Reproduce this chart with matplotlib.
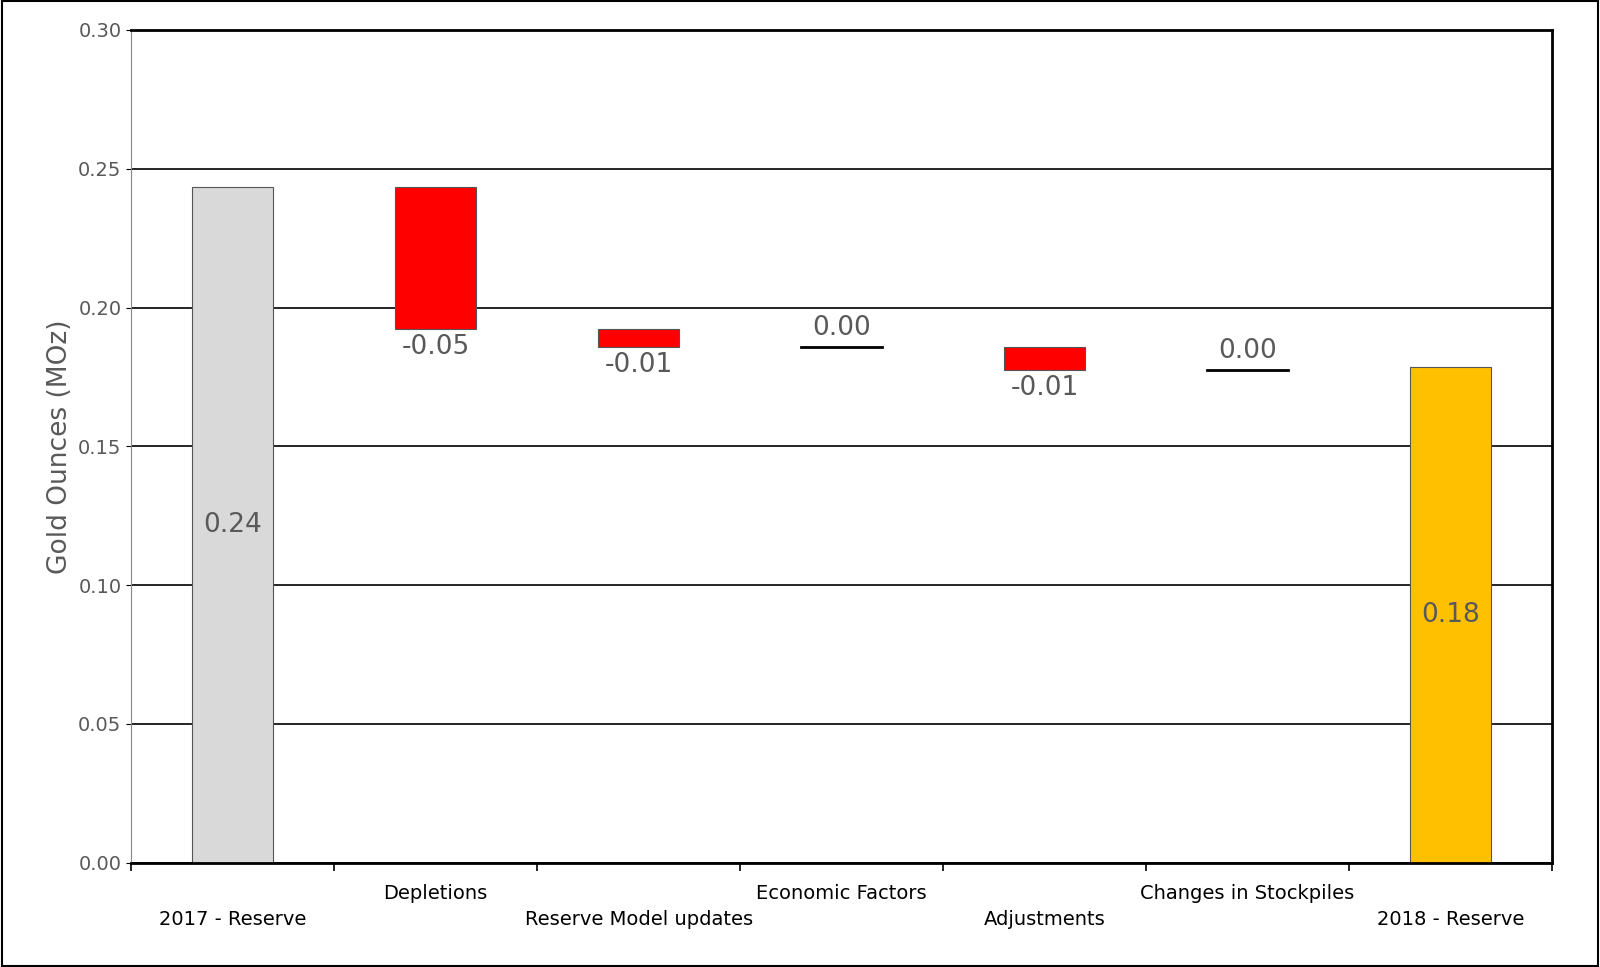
import matplotlib.pyplot as plt
import numpy as np

categories = ["2017 - Reserve", "Depletions", "Reserve Model updates", "Economic Factors",
              "Adjustments", "Changes in Stockpiles", "2018 - Reserve"]
start_value = 0.2434
changes = [-0.051, -0.0065, 0.0, -0.0083, 0.0]
end_value = 0.1786
labels = ["0.24", "-0.05", "-0.01", "0.00", "-0.01", "0.00", "0.18"]

fig = plt.figure(figsize=(16, 9.67), dpi=100)
ax = fig.add_axes([0.082, 0.108, 0.888, 0.861])
fig.patches.append(plt.Rectangle((0.001, 0.001), 0.998, 0.998, transform=fig.transFigure,
                                 fill=False, edgecolor="black", linewidth=1.5))

x = np.arange(len(categories))
w = 0.4
ax.set_axisbelow(True)
ax.yaxis.grid(True, color="black", linewidth=1.2)

ax.bar(x[0], start_value, w, color="#d9d9d9", edgecolor="#555555", linewidth=0.8)
ax.text(x[0], start_value / 2, labels[0], ha="center", va="center", fontsize=19, color="#595959")

level = start_value
for i, d in enumerate(changes, start=1):
    new = level + d
    if d == 0:
        ax.plot([x[i] - w / 2, x[i] + w / 2], [level, level], color="black", linewidth=2)
        ax.text(x[i], level + 0.002, labels[i], ha="center", va="bottom", fontsize=19, color="#595959")
    else:
        ax.bar(x[i], d, w, bottom=level, color="#ff0000", edgecolor="#555555", linewidth=0.8)
        ax.text(x[i], new - 0.002, labels[i], ha="center", va="top", fontsize=19, color="#595959")
    level = new

ax.bar(x[-1], end_value, w, color="#ffc000", edgecolor="#555555", linewidth=0.8)
ax.text(x[-1], end_value / 2, labels[-1], ha="center", va="center", fontsize=19, color="#595959")

ax.set_xlim(-0.5, len(categories) - 0.5)
ax.set_ylim(0, 0.30)
ax.set_yticks(np.arange(0, 0.301, 0.05))
ax.set_yticklabels([f"{v:.2f}" for v in np.arange(0, 0.301, 0.05)], fontsize=14, color="#595959")
ax.set_ylabel("Gold Ounces (MOz)", fontsize=19, color="#595959")

ax.set_xticks(np.arange(-0.5, len(categories), 1.0))
ax.set_xticklabels([])
ax.tick_params(axis="x", length=6, width=1.2)
for i, c in enumerate(categories):
    ax.annotate(c, (x[i], 0), xycoords=("data", "axes fraction"), xytext=(0, -41 if i % 2 == 0 else -22),
                textcoords="offset points", ha="center", va="center", fontsize=14)

for s in ["top", "right", "bottom"]:
    ax.spines[s].set_linewidth(2)
ax.spines["left"].set_color("#888888")

fig.savefig("out.png")
